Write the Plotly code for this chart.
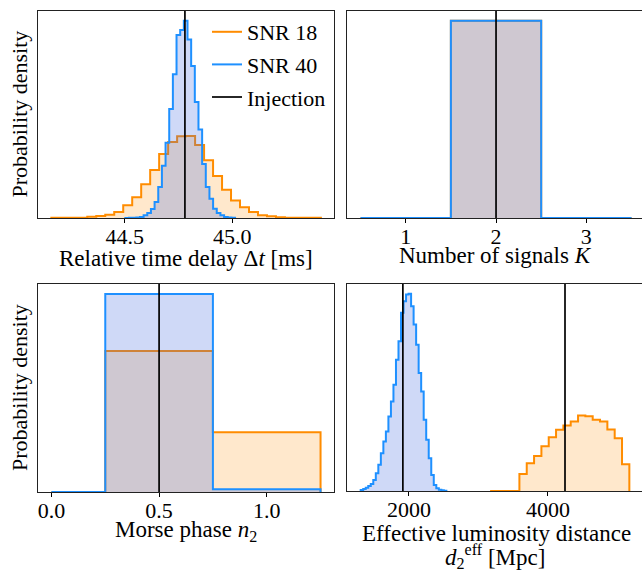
import numpy as np
import plotly.graph_objects as go

# ---- relative time delay (ms): 30 bins per run ----
dt_edges_snr18 = np.linspace(44.159, 45.412, 31)
dt_dens_snr18 = [0.011, 0.011, 0.011, 0.011, 0.046, 0.071, 0.116, 0.21, 0.45, 0.73,
                 1.19, 1.69, 2.26, 2.68, 2.88, 2.89, 2.57, 2.04, 1.48, 1.00,
                 0.62, 0.38, 0.21, 0.095, 0.06, 0.025, 0.011, 0.011, 0.011, 0.011]
dt_edges_snr40 = np.linspace(44.503, 45.013, 31)
dt_dens_snr40 = [0.004, 0.007, 0.011, 0.018, 0.035, 0.095, 0.18, 0.32, 0.56, 1.09,
                 1.84, 2.65, 3.84, 5.07, 6.45, 6.63, 6.95, 6.29, 5.36, 4.09,
                 3.12, 1.90, 1.09, 0.68, 0.33, 0.18, 0.095, 0.035, 0.018, 0.007]
dt_injection = 44.78

# ---- number of signals K ----
k_edges = [0.5, 1.5, 2.5, 3.5]
k_dens_snr18 = [0.0, 1.0, 0.0]
k_dens_snr40 = [0.0, 1.0, 0.0]
k_injection = 2

# ---- Morse phase n2 ----
n2_edges = [0.0, 0.25, 0.75, 1.25]
n2_dens_snr18 = [0.0, 1.405, 0.595]
n2_dens_snr40 = [0.0, 1.973, 0.027]
n2_injection = 0.5

# ---- effective luminosity distance (Mpc), densities in 1e-3 / Mpc ----
dl_edges_snr18 = np.linspace(3167, 5171, 20)
dl_dens_snr18 = [0, 0, 0, 0, 0.196, 0.319, 0.403, 0.514, 0.618, 0.702,
                 0.751, 0.797, 0.866, 0.859, 0.817, 0.797, 0.705, 0.606, 0.307]
dl_edges_snr40 = np.linspace(1305, 2538, 35)
dl_dens_snr40 = [0.012, 0.023, 0.038, 0.058, 0.081, 0.127, 0.204, 0.30, 0.434, 0.567,
                 0.682, 0.854, 1.027, 1.219, 1.507, 1.717, 2.044, 2.177, 2.254, 2.262,
                 2.119, 1.909, 1.679, 1.354, 1.142, 0.817, 0.587, 0.376, 0.184, 0.069,
                 0.031, 0.015, 0.008, 0.003]
dl_injection_snr18 = 4245
dl_injection_snr40 = 1912

ORANGE = "#FF8C00"
BLUE = "#1E90FF"
ORANGE_FILL = "rgba(255,140,0,0.2)"
BLUE_FILL = "rgba(65,105,225,0.25)"
FONT = "Liberation Serif, Times New Roman, serif"
TICK_SIZE = 22
TITLE_SIZE = 23

W, H = 642, 572


def step_xy(edges, dens, scale=1.0):
    e = list(np.asarray(edges, float))
    h = [float(v) * scale for v in dens]
    xs = [e[0]] + e + [e[-1]]
    ys = [0.0] + h + [h[-1], 0.0]
    return xs, ys


fig = go.Figure()

# panel boxes in pixels (left, right), (top, bottom); right-hand column runs off the page edge
panels = {
    1: dict(x=(38, 334), y=(11, 218)),
    2: dict(x=(347, 642), y=(11, 218)),
    3: dict(x=(38, 334), y=(284, 492)),
    4: dict(x=(347, 642), y=(284, 491)),
}


def add_hist(idx, edges, dens, line_col, fill_col, name, scale=1.0, legend=False):
    xs, ys = step_xy(edges, dens, scale)
    ax = "" if idx == 1 else str(idx)
    fig.add_trace(go.Scatter(x=xs, y=ys, mode="lines", line=dict(width=0, shape="hv"),
                             fill="tozeroy", fillcolor=fill_col, showlegend=False,
                             hoverinfo="skip", xaxis="x" + ax, yaxis="y" + ax))
    fig.add_trace(go.Scatter(x=xs, y=ys, mode="lines", line=dict(color=line_col, width=2, shape="hv"),
                             name=name, showlegend=legend, legendgroup=name,
                             xaxis="x" + ax, yaxis="y" + ax))


def add_injection(idx, xv, ytop, legend=False):
    ax = "" if idx == 1 else str(idx)
    fig.add_trace(go.Scatter(x=[xv, xv], y=[0, ytop], mode="lines",
                             line=dict(color="black", width=1.7), name="Injection",
                             showlegend=legend, legendgroup="Injection",
                             xaxis="x" + ax, yaxis="y" + ax))


# panel 1: time delay
ymax1 = 1.05 * max(max(dt_dens_snr18), max(dt_dens_snr40))
add_hist(1, dt_edges_snr18, dt_dens_snr18, ORANGE, ORANGE_FILL, "SNR 18", legend=True)
add_hist(1, dt_edges_snr40, dt_dens_snr40, BLUE, BLUE_FILL, "SNR 40", legend=True)
add_injection(1, dt_injection, ymax1, legend=True)

# panel 2: number of signals
ymax2 = 1.05 * max(max(k_dens_snr18), max(k_dens_snr40))
add_hist(2, k_edges, k_dens_snr18, ORANGE, ORANGE_FILL, "SNR 18")
add_hist(2, k_edges, k_dens_snr40, BLUE, BLUE_FILL, "SNR 40")
add_injection(2, k_injection, ymax2)

# panel 3: Morse phase
ymax3 = 1.05 * max(max(n2_dens_snr18), max(n2_dens_snr40))
add_hist(3, n2_edges, n2_dens_snr18, ORANGE, ORANGE_FILL, "SNR 18")
add_hist(3, n2_edges, n2_dens_snr40, BLUE, BLUE_FILL, "SNR 40")
add_injection(3, n2_injection, ymax3)

# panel 4: luminosity distance
sc = 1e-3
ymax4 = 1.05 * max(max(dl_dens_snr18), max(dl_dens_snr40)) * sc
add_hist(4, dl_edges_snr18, dl_dens_snr18, ORANGE, ORANGE_FILL, "SNR 18", scale=sc)
add_hist(4, dl_edges_snr40, dl_dens_snr40, BLUE, BLUE_FILL, "SNR 40", scale=sc)
add_injection(4, dl_injection_snr18, ymax4)
add_injection(4, dl_injection_snr40, ymax4)

xranges = {1: [44.097, 45.473], 2: [0.35, 3.616], 3: [-0.0625, 1.3125], 4: [1108, 5353]}
yranges = {1: [0, ymax1], 2: [0, ymax2], 3: [0, ymax3], 4: [0, ymax4]}
xticks = {
    1: ([44.5, 45.0], ["44.5", "45.0"]),
    2: ([1, 2, 3], ["1", "2", "3"]),
    3: ([0.0, 0.5, 1.0], ["0.0", "0.5", "1.0"]),
    4: ([2000, 4000], ["2000", "4000"]),
}

layout = {}
for i, p in panels.items():
    ax = "" if i == 1 else str(i)
    xd = [p["x"][0] / W, min(1.0, p["x"][1] / W)]
    yd = [1 - p["y"][1] / H, 1 - p["y"][0] / H]
    layout["xaxis" + ax] = dict(
        domain=xd, range=xranges[i], anchor="y" + ax,
        tickvals=xticks[i][0], ticktext=xticks[i][1],
        ticks="outside", ticklen=4, tickwidth=1, tickcolor="black",
        ticklabelstandoff=-5,
        showline=True, linecolor="#222", linewidth=1, mirror=True,
        showgrid=False, zeroline=False,
        tickfont=dict(size=TICK_SIZE, color="black", family=FONT),
    )
    layout["yaxis" + ax] = dict(
        domain=yd, range=yranges[i], anchor="x" + ax,
        showticklabels=False, ticks="",
        showline=True, linecolor="#222", linewidth=1,
        mirror=i in (1, 3),
        showgrid=False, zeroline=False,
    )

title_font = dict(size=TITLE_SIZE, color="black", family=FONT)
annotations = []
# x-axis titles: (text, centre x px, centre y px)
xtitle_specs = [
    ("Relative time delay Δ<i>t</i> [ms]", 186, 258),
    ("Number of signals <i>K</i>", 495, 255),
    ("Morse phase <i>n</i><sub>2</sub>", 186, 531),
    ("Effective luminosity distance", 496, 533),
    ("<i>d</i><sub>2</sub><sup>eff</sup> [Mpc]", 495, 556),
]
for text, cx, cy in xtitle_specs:
    annotations.append(dict(text=text, x=cx / W, y=1 - cy / H, xref="paper", yref="paper",
                            xanchor="center", yanchor="middle", showarrow=False, font=title_font))
# y-axis titles on the left-hand panels
for cy in (114.5, 388):
    annotations.append(dict(text="Probability density", x=19 / W, y=1 - cy / H,
                            xref="paper", yref="paper", xanchor="center", yanchor="middle",
                            textangle=-90, showarrow=False,
                            font=dict(size=22, color="black", family=FONT)))

fig.update_layout(
    **layout,
    annotations=annotations,
    width=W, height=H,
    margin=dict(l=0, r=0, t=0, b=0),
    paper_bgcolor="white", plot_bgcolor="white",
    font=dict(family=FONT, size=22, color="black"),
    showlegend=True,
    legend=dict(x=207 / W, y=1 - 11 / H, xanchor="left", yanchor="top",
                bgcolor="rgba(0,0,0,0)", borderwidth=0,
                font=dict(size=22, family=FONT, color="black"),
                itemwidth=30, tracegroupgap=1),
)

fig.write_html("out.html")
